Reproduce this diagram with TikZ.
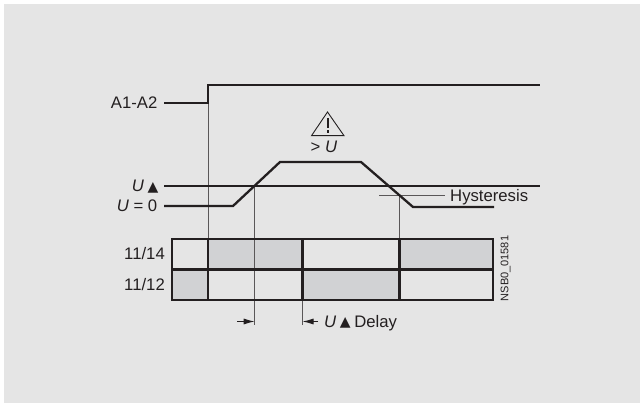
\documentclass[tikz,border=0pt]{standalone}
\usepackage{fontspec}
\setmainfont{Liberation Sans}
\newfontfamily\symfont{DejaVu Sans}
\usetikzlibrary{arrows.meta}
\definecolor{bg}{HTML}{E5E5E5}
\definecolor{cellgray}{HTML}{D1D2D4}
\definecolor{ink}{HTML}{231F20}
\newcommand{\uptri}{\kern-1pt\raisebox{0.6pt}{\symfont\fontsize{14}{14}\selectfont ▲}\kern-1pt}
\tikzset{
  lab/.style={inner sep=0pt,text=ink,font=\fontsize{16.7}{18}\selectfont},
  heavy/.style={draw=ink,line width=2.3pt,line join=miter},
  signal/.style={draw=ink,line width=2.3pt,line join=miter},
  thinl/.style={draw=ink!75,line width=1pt},
  cell/.style={fill=cellgray,draw=none},
  dimarrow/.style={draw=ink,line width=1pt,-{Latex[length=11pt,width=6pt]}}
}
\begin{document}
\begin{tikzpicture}[x=1pt,y=-1pt]
\useasboundingbox (0,0) rectangle (640,403);
\fill[white] (0,0) rectangle (640,403);
\fill[bg] (4,4) rectangle (640,403);
% coordinates
\coordinate (a0) at (164,103);
\coordinate (a1) at (208,103);
\coordinate (a2) at (208,85);
\coordinate (a3) at (540,85);
\coordinate (u0) at (164,186);
\coordinate (u1) at (540,186);
\coordinate (s0) at (164,206);
\coordinate (s1) at (233,206);
\coordinate (s2) at (280,162);
\coordinate (s3) at (361,162);
\coordinate (s4) at (413,207);
\coordinate (s5) at (494,207);
\coordinate (h0) at (379,195.7);
\coordinate (h1) at (445,195.7);
% table fills
\fill[cell] (208,239) rectangle (302.5,269.5);
\fill[cell] (399.5,239) rectangle (493,269.5);
\fill[cell] (172,269.5) rectangle (208,300);
\fill[cell] (302.5,269.5) rectangle (399.5,300);
% thin lines
\coordinate (v1t) at (208,103);
\coordinate (v1b) at (208,239);
\coordinate (v2t) at (254.7,186);
\coordinate (v2b) at (254.7,325);
\coordinate (v3t) at (302.5,300);
\coordinate (v3b) at (302.5,325);
\coordinate (v4t) at (399.5,195.7);
\coordinate (v4b) at (399.5,239);
\draw[thinl] (v1t) -- (v1b);
\draw[thinl] (v2t) -- (v2b);
\draw[thinl] (v3t) -- (v3b);
\draw[thinl] (v4t) -- (v4b);
\draw[thinl] (h0) -- (h1);
% signals
\draw[signal] (a0) -- (a1) -- (a2) -- (a3);
\draw[signal] (u0) -- (u1);
\draw[signal] (s0) -- (s1) -- (s2) -- (s3) -- (s4) -- (s5);
% table
\draw[heavy] (172,239) rectangle (493,300);
\draw[heavy] (172,269.5) -- (493,269.5);
\draw[heavy] (208,239) -- (208,300);
\draw[heavy] (302.5,239) -- (302.5,300);
\draw[heavy] (399.5,239) -- (399.5,300);
% dimension arrows
\coordinate (d1) at (237,321.5);
\coordinate (d2) at (254.7,321.5);
\coordinate (d3) at (318,321.5);
\coordinate (d4) at (302.5,321.5);
\draw[dimarrow] (d1) -- (d2);
\draw[dimarrow] (d3) -- (d4);
% warning symbol
\draw[draw=ink,line width=0.9pt,line join=miter] (327.5,112) -- (344,135.7) -- (311.5,135.7) -- cycle;
\draw[draw=ink,line width=2pt] (327.5,118) -- (327.5,128);
\fill[ink] (326.5,130) rectangle (328.5,133);
% labels
\node[lab,anchor=base east] (la) at (157.5,109) {A1-A2};
\node[lab,anchor=base east] (lu) at (157.5,192) {\textit{U} \uptri};
\node[lab,anchor=base east] (lz) at (157.5,212) {\textit{U} = 0};
\node[lab,anchor=base east] (l14) at (165,260) {11/14};
\node[lab,anchor=base east] (l12) at (165,291) {11/12};
\node[lab,anchor=base west] (lh) at (450,201.5) {Hysteresis};
\node[lab,anchor=base west] (ld) at (324,327) {\textit{U} \uptri{} Delay};
\node[lab,anchor=base] (lw) at (324,153) {> \textit{U}};
\node[inner sep=0pt,text=ink,font=\fontsize{11}{12}\selectfont,rotate=90,anchor=center] (ln) at (505.5,268.5) {NSB0\_01581};
\end{tikzpicture}
\end{document}
